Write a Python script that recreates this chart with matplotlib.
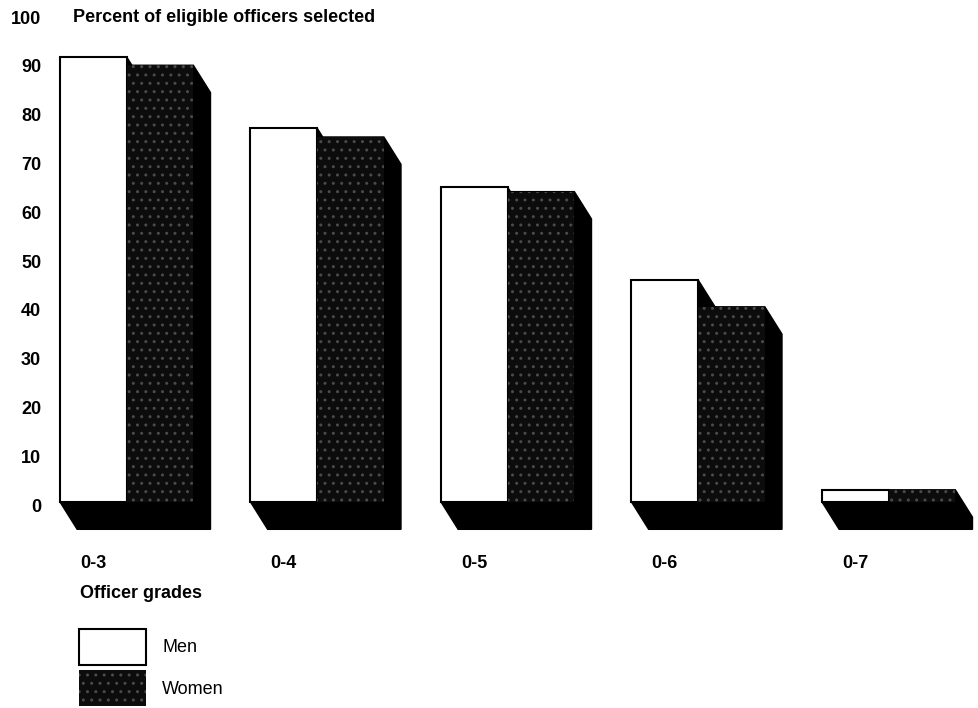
import numpy as np
import matplotlib.pyplot as plt
from matplotlib.patches import Polygon, Rectangle, Patch
from matplotlib.transforms import ScaledTranslation

plt.rcParams['font.family'] = ['Liberation Sans', 'DejaVu Sans']

grades = ['0-3', '0-4', '0-5', '0-6', '0-7']
men = [91.2, 76.6, 64.5, 45.5, 2.5]
women = [89.5, 74.8, 63.6, 40.0, 2.5]
yticks = [0, 10, 20, 30, 40, 50, 60, 70, 80, 90, 100]

W, H = 979, 708
FS = 13
bar_w = 0.35      # width of one bar, in group units
dx, dy = 0.09, 5.6  # depth of the 3d extrusion (x in group units, y in percent)
women_fc = '#0c0c0c'
women_hc = '#4a4a4a'


def block(x0, x1, top):
    # outline of a bar plus its extrusion going back to the lower right
    return [(x0, top), (x1, top), (x1 + dx, top - dy), (x1 + dx, -dy),
            (x0 + dx, -dy), (x0, 0)]


fig = plt.figure(figsize=(W / 100, H / 100), dpi=100)
ax = fig.add_axes([55 / W, 0, 924 / W, 1])
ax.set_xlim(-5 / 190.5, 919 / 190.5)
ax.set_ylim(-(H - 502) / 4.88, 502 / 4.88)

x = np.arange(len(grades))
for i in x:
    ax.add_patch(Polygon(block(i, i + bar_w, men[i]), closed=True,
                         fc='black', ec='black', lw=1))
    ax.add_patch(Polygon(block(i + bar_w, i + 2 * bar_w, women[i]), closed=True,
                         fc='black', ec='black', lw=1))
for i in x:
    ax.add_patch(Rectangle((i, 0), bar_w, men[i], fc='white', ec='black', lw=1.5))
    ax.add_patch(Rectangle((i + bar_w, 0), bar_w, women[i], fc=women_fc,
                           ec=women_hc, lw=0, hatch='..'))
    ax.text(i + 20 / 190.5, -12.5, grades[i], fontsize=FS, fontweight='bold',
            va='center', ha='left')

for s in ax.spines.values():
    s.set_visible(False)
ax.set_xticks([])
ax.set_yticks(yticks)
ax.set_yticklabels([str(t) for t in yticks], fontweight='bold', fontsize=FS)
ax.tick_params(axis='y', length=0, pad=10)
shift = ScaledTranslation(0, -3 / 100, fig.dpi_scale_trans)
for lbl in ax.get_yticklabels():
    lbl.set_transform(lbl.get_transform() + shift)

fig.text(73 / W, 1 - 18 / H, 'Percent of eligible officers selected',
         fontsize=FS, fontweight='bold', va='center', ha='left')
fig.text(80 / W, 1 - 593 / H, 'Officer grades',
         fontsize=FS, fontweight='bold', va='center', ha='left')

handles = [Patch(fc='white', ec='black', lw=1.5, label='Men'),
           Patch(fc=women_fc, ec=women_hc, lw=0, hatch='..', label='Women')]
ax.legend(handles=handles, loc='upper left', bbox_to_anchor=(79 / W, 1 - 629 / H),
          bbox_transform=fig.transFigure, frameon=False, fontsize=FS,
          handlelength=3.7, handleheight=2.7, labelspacing=0.28,
          handletextpad=0.9, borderpad=0, borderaxespad=0)

fig.savefig('out.png', dpi=100)
